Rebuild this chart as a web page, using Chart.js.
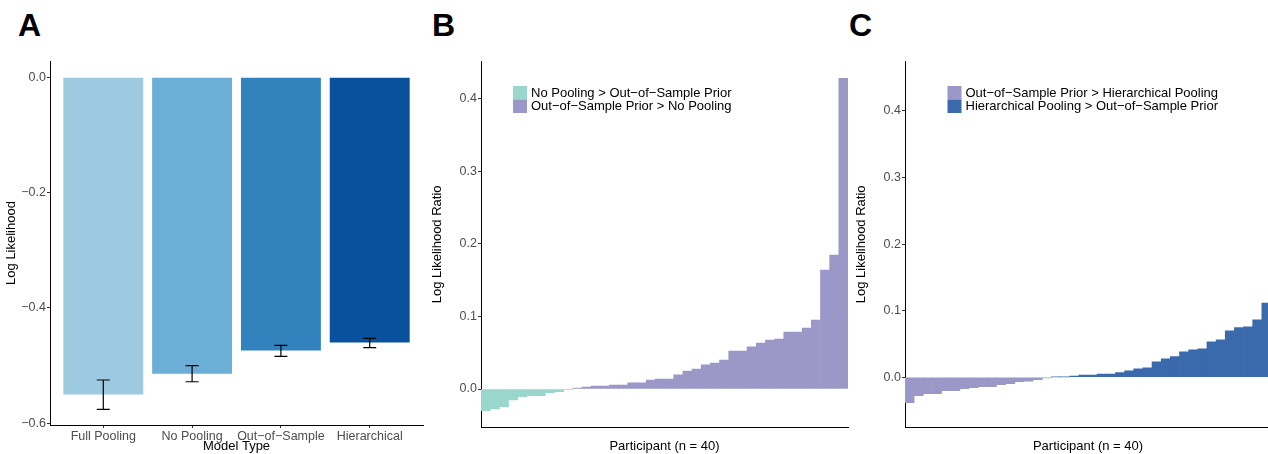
<!DOCTYPE html>
<html>
<head>
<meta charset="utf-8">
<script src="https://cdn.jsdelivr.net/npm/chart.js@4.4.1/dist/chart.umd.min.js"></script>
<style>
  html, body { margin: 0; padding: 0; overflow: hidden; background: #fff; width: 1268px; height: 454px; }
  .panel { position: absolute; top: 0; }
  .tag { position: absolute; top: 9px; font: bold 32px/32px 'Liberation Sans', Arial, sans-serif; color: #000; }
</style>
</head>
<body>
<div class="tag" style="left:18px">A</div>
<div class="tag" style="left:432px">B</div>
<div class="tag" style="left:849px">C</div>
<div class="panel" style="left:0px"><canvas id="chart-a" width="430" height="454"></canvas></div>
<div class="panel" style="left:426px"><canvas id="chart-b" width="424" height="454"></canvas></div>
<div class="panel" style="left:850px"><canvas id="chart-c" width="421" height="454"></canvas></div>
<script>
// panel A - mean log likelihood per model
var modelTypes = ['Full Pooling', 'No Pooling', 'Out\u2212of\u2212Sample', 'Hierarchical'];
var modelPos = [1, 2, 3, 4];
var modelLL = [-0.550, -0.514, -0.474, -0.460];
var modelErrLo = [-0.576, -0.528, -0.484, -0.469];
var modelErrHi = [-0.525, -0.500, -0.465, -0.453];
var modelColors = ['#9ecae1', '#6baed6', '#3182bd', '#08519c'];
var ticksA = [-0.6, -0.4, -0.2, 0.0];

// panels B and C - per participant log likelihood ratio, sorted
var participants = [];
for (var p = 1; p <= 40; p++) participants.push(String(p));

var ratioB = [-0.0298, -0.0275, -0.0243, -0.0151, -0.0106, -0.0092, -0.0092, -0.0050, -0.0037, -0.0010,
  0.0014, 0.0028, 0.0041, 0.0041, 0.0055, 0.0055, 0.0087, 0.0087, 0.0124, 0.0138,
  0.0138, 0.0197, 0.0248, 0.0275, 0.0335, 0.0358, 0.0399, 0.0523, 0.0523, 0.0583,
  0.0633, 0.0674, 0.0688, 0.0784, 0.0784, 0.0839, 0.0950, 0.1638, 0.1844, 0.4280];
var legendB = ['No Pooling > Out\u2212of\u2212Sample Prior', 'Out\u2212of\u2212Sample Prior > No Pooling'];

var ratioC = [-0.0380, -0.0275, -0.0245, -0.0245, -0.0200, -0.0200, -0.0170, -0.0155, -0.0140, -0.0140,
  -0.0110, -0.0095, -0.0065, -0.0060, -0.0035, -0.0010, 0.0005, 0.0005, 0.0017, 0.0035,
  0.0035, 0.0050, 0.0050, 0.0070, 0.0097, 0.0128, 0.0143, 0.0233, 0.0278, 0.0310,
  0.0383, 0.0413, 0.0428, 0.0533, 0.0563, 0.0698, 0.0746, 0.0758, 0.0863, 0.1115];
var legendC = ['Out\u2212of\u2212Sample Prior > Hierarchical Pooling', 'Hierarchical Pooling > Out\u2212of\u2212Sample Prior'];

var ticksRatio = [0.0, 0.1, 0.2, 0.3, 0.4];

Chart.defaults.font.family = "'Liberation Sans', Arial, sans-serif";
Chart.defaults.font.size = 13;
Chart.defaults.color = '#000';

var fmt = function(v){ return v.toFixed(1).replace('-', '\u2212'); };
var tickFont = { size: 12.5 };
var tickColor = '#4d4d4d';

var errorBars = {
  id: 'errorBars',
  afterDatasetsDraw: function(chart) {
    var ctx = chart.ctx, xs = chart.scales.x, ys = chart.scales.y;
    ctx.save();
    ctx.strokeStyle = '#000';
    ctx.lineWidth = 1.2;
    for (var i = 0; i < modelPos.length; i++) {
      var x = xs.getPixelForValue(modelPos[i]);
      var y1 = ys.getPixelForValue(modelErrLo[i]);
      var y2 = ys.getPixelForValue(modelErrHi[i]);
      ctx.beginPath();
      ctx.moveTo(x, y1); ctx.lineTo(x, y2);
      ctx.moveTo(x - 6.5, y1); ctx.lineTo(x + 6.5, y1);
      ctx.moveTo(x - 6.5, y2); ctx.lineTo(x + 6.5, y2);
      ctx.stroke();
    }
    ctx.restore();
  }
};

var insetLegend = {
  id: 'insetLegend',
  afterDraw: function(chart, args, opts) {
    var ctx = chart.ctx, area = chart.chartArea;
    var x = area.left + opts.left, y = area.top + opts.top;
    ctx.save();
    ctx.font = "13px 'Liberation Sans', Arial, sans-serif";
    ctx.textBaseline = 'middle';
    chart.data.datasets.forEach(function(ds, i){
      ctx.fillStyle = ds.backgroundColor;
      ctx.fillRect(x, y + i * opts.boxHeight, opts.boxWidth, opts.boxHeight);
      ctx.fillStyle = '#000';
      ctx.fillText(ds.label, x + opts.boxWidth + opts.gap, y + i * opts.boxHeight + opts.boxHeight / 2 + 0.5);
    });
    ctx.restore();
  }
};

var ctx = document.getElementById('chart-a');
var chart = new Chart(ctx, {
  type: 'bar',
  data: {
    datasets: [{
      label: 'Log Likelihood',
      data: modelPos.map(function(x, i){ return {x: x, y: modelLL[i]}; }),
      backgroundColor: modelColors,
      categoryPercentage: 0.9,
      barPercentage: 1
    }]
  },
  plugins: [errorBars],
  options: {
    responsive: false,
    animation: false,
    layout: { padding: { top: 61, right: 7, left: 0, bottom: 0 } },
    plugins: { legend: { display: false }, tooltip: { enabled: false } },
    scales: {
      x: {
        type: 'linear', min: 0.4, max: 4.6, offset: false,
        afterBuildTicks: function(s){ s.ticks = modelPos.map(function(v){ return {value: v}; }); },
        afterFit: function(s){ s.height = 29; },
        ticks: {
          callback: function(v, i){ return modelTypes[i]; },
          color: tickColor, font: tickFont, padding: 1, maxRotation: 0, autoSkip: false
        },
        grid: { drawOnChartArea: false, tickLength: 3, color: '#333', offset: false },
        border: { color: '#000', width: 1 },
        title: { display: true, text: 'Model Type', padding: { top: 0, bottom: 0 } }
      },
      y: {
        min: -0.603, max: 0.028,
        afterBuildTicks: function(s){ s.ticks = ticksA.map(function(v){ return {value: v}; }); },
        afterFit: function(s){ s.width = 50; },
        ticks: { callback: function(v){ return fmt(v); }, color: tickColor, font: tickFont, padding: 1 },
        grid: { drawOnChartArea: false, tickLength: 3, color: '#333' },
        border: { color: '#000', width: 1 },
        title: { display: true, text: 'Log Likelihood', padding: { top: 4, bottom: 0 } }
      }
    }
  }
});

function ratioChart(id, values, labels, colors, yMin, yMax, legendLeft, padRight) {
  var neg = values.map(function(v){ return v < 0 ? v : null; });
  var pos = values.map(function(v){ return v >= 0 ? v : null; });
  return new Chart(document.getElementById(id), {
    type: 'bar',
    data: {
      labels: participants,
      datasets: [
        { label: labels[0], data: neg, backgroundColor: colors[0], grouped: false, categoryPercentage: 1, barPercentage: 1 },
        { label: labels[1], data: pos, backgroundColor: colors[1], grouped: false, categoryPercentage: 1, barPercentage: 1 }
      ]
    },
    plugins: [insetLegend],
    options: {
      responsive: false,
      animation: false,
      layout: { padding: { top: 61, right: padRight, left: 0, bottom: 0 } },
      plugins: {
        legend: { display: false },
        tooltip: { enabled: false },
        insetLegend: { left: legendLeft, top: 25, boxWidth: 14, boxHeight: 13.5, gap: 4 }
      },
      scales: {
        x: {
          offset: true,
          afterFit: function(s){ s.height = 26.3; },
          ticks: { display: false },
          grid: { display: false },
          border: { color: '#000', width: 1 },
          title: { display: true, text: 'Participant (n = 40)', padding: { top: 0, bottom: 0 } }
        },
        y: {
          min: yMin, max: yMax,
          afterBuildTicks: function(s){ s.ticks = ticksRatio.map(function(v){ return {value: v}; }); },
          afterFit: function(s){ s.width = 55; },
          ticks: { callback: function(v){ return fmt(v); }, color: tickColor, font: tickFont, padding: 1 },
          grid: { drawOnChartArea: false, tickLength: 3, color: '#333' },
          border: { color: '#000', width: 1 },
          title: { display: true, text: 'Log Likelihood Ratio', padding: { top: 4, bottom: 0 } }
        }
      }
    }
  });
}

var chartB = ratioChart('chart-b', ratioB, legendB, ['#99d6cb', '#9b98c8'], -0.0533, 0.452, 32, 2);
var chartC = ratioChart('chart-c', ratioC, legendC, ['#9b98c8', '#3a6aab'], -0.0757, 0.475, 42.5, 0);
</script>
</body>
</html>
